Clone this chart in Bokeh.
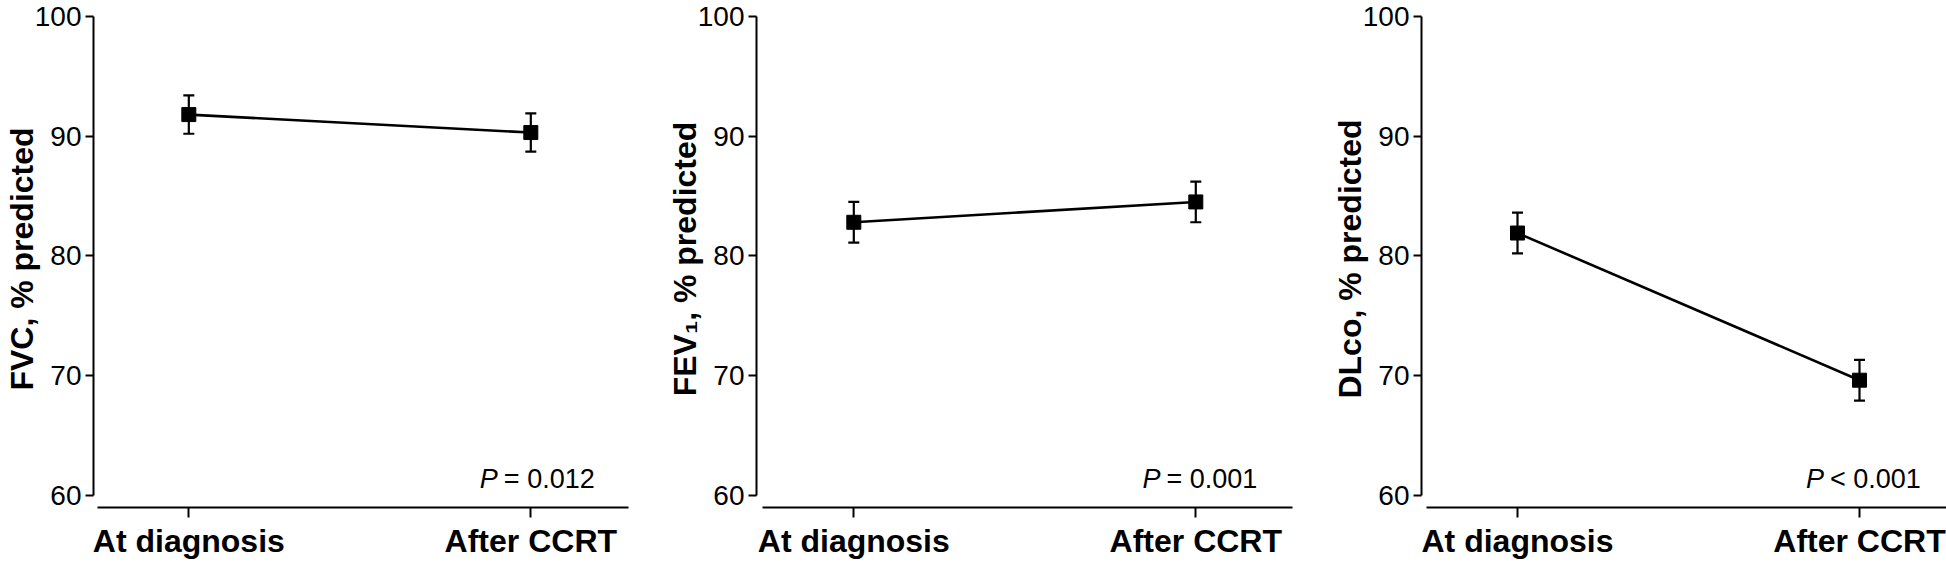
from bokeh.plotting import figure
from bokeh.models import Range1d, FixedTicker, Whisker, TeeHead, ColumnDataSource, Label
from bokeh.layouts import row
from bokeh.embed import file_html
from bokeh.resources import INLINE

# ---- data ----
categories = ["At diagnosis", "After CCRT"]
x_pos = [0, 1]
fvc_mean = [91.8, 90.3]
fvc_sem = [1.6, 1.6]
fev1_mean = [82.8, 84.5]
fev1_sem = [1.7, 1.7]
dlco_mean = [81.9, 69.6]
dlco_sem = [1.7, 1.7]
y_ticks = [60, 70, 80, 90, 100]
y_titles = ["FVC, % predicted", "FEV\u2081, % predicted", "DLco, % predicted"]
p_signs = ["=", "=", "<"]
p_values = ["0.012", "0.001", "0.001"]

means = [fvc_mean, fev1_mean, dlco_mean]
sems = [fvc_sem, fev1_sem, dlco_sem]

# ---- layout (pixels / ranges) ----
panels = [
    dict(lb=93, fw=535, start=-0.2787, rb=35, px=0.851),
    dict(lb=87, fw=536, start=-0.2845, rb=36, px=0.844),
    dict(lb=87, fw=535, start=-0.2807, rb=1, px=0.8436),
]
PX_PER_UNIT = 342.0
FONT = "Liberation Sans"

figs = []
for i, spec in enumerate(panels):
    x_end = spec["start"] + spec["fw"] / PX_PER_UNIT
    p = figure(
        output_backend="svg", toolbar_location=None,
        frame_width=spec["fw"], frame_height=497,
        min_border_left=spec["lb"], min_border_right=spec["rb"],
        min_border_top=10, min_border_bottom=55,
        x_range=Range1d(spec["start"], x_end),
        y_range=Range1d(58.96, 100.5),
        tools="",
    )
    p.outline_line_color = None
    p.grid.visible = False
    p.background_fill_color = "white"
    p.border_fill_color = "white"

    m = means[i]
    s = sems[i]
    src = ColumnDataSource(dict(
        x=x_pos, y=m,
        upper=[a + b for a, b in zip(m, s)],
        lower=[a - b for a, b in zip(m, s)],
    ))
    p.line("x", "y", source=src, line_color="black", line_width=2.6)
    w = Whisker(base="x", upper="upper", lower="lower", source=src,
                dimension="height", line_color="black", line_width=2.2,
                upper_head=TeeHead(size=11, line_width=2.2, line_color="black"),
                lower_head=TeeHead(size=11, line_width=2.2, line_color="black"))
    p.add_layout(w)
    p.scatter("x", "y", source=src, marker="square", size=14,
              fill_color="black", line_color="black")

    # y axis
    ya = p.yaxis[0]
    ya.ticker = FixedTicker(ticks=y_ticks)
    ya.bounds = (60, 100)
    ya.axis_line_width = 2
    ya.axis_line_color = "black"
    ya.major_tick_line_width = 2
    ya.major_tick_line_color = "black"
    ya.major_tick_out = 8
    ya.major_tick_in = 0
    ya.minor_tick_line_color = None
    ya.major_label_text_font = FONT
    ya.major_label_text_font_size = "28px"
    ya.major_label_text_color = "black"
    ya.major_label_standoff = 4
    ya.axis_label = y_titles[i]
    ya.axis_label_text_font = FONT
    ya.axis_label_text_font_size = "32px"
    ya.axis_label_text_font_style = "bold"
    ya.axis_label_text_color = "black"
    ya.axis_label_standoff = -8

    # x axis
    xa = p.xaxis[0]
    xa.ticker = FixedTicker(ticks=x_pos)
    xa.major_label_overrides = {x: c for x, c in zip(x_pos, categories)}
    xa.bounds = (-0.266, x_end)
    xa.axis_line_width = 2
    xa.axis_line_color = "black"
    xa.major_tick_line_width = 2
    xa.major_tick_line_color = "black"
    xa.major_tick_out = 10
    xa.major_tick_in = 0
    xa.minor_tick_line_color = None
    xa.major_label_text_font = FONT
    xa.major_label_text_font_size = "32px"
    xa.major_label_text_font_style = "bold"
    xa.major_label_text_color = "black"
    xa.major_label_standoff = 5

    # P value annotation
    p.add_layout(Label(x=spec["px"], y=61.35, text="P", text_font=FONT,
                       text_font_size="27px", text_font_style="italic",
                       text_color="black", text_align="left",
                       text_baseline="alphabetic"))
    p.add_layout(Label(x=spec["px"], y=61.35, x_offset=24,
                       text=p_signs[i] + " " + p_values[i], text_font=FONT,
                       text_font_size="27px", text_color="black",
                       text_align="left", text_baseline="alphabetic"))
    figs.append(p)

layout = row(*figs)
open("out.html", "w").write(file_html(layout, INLINE))
